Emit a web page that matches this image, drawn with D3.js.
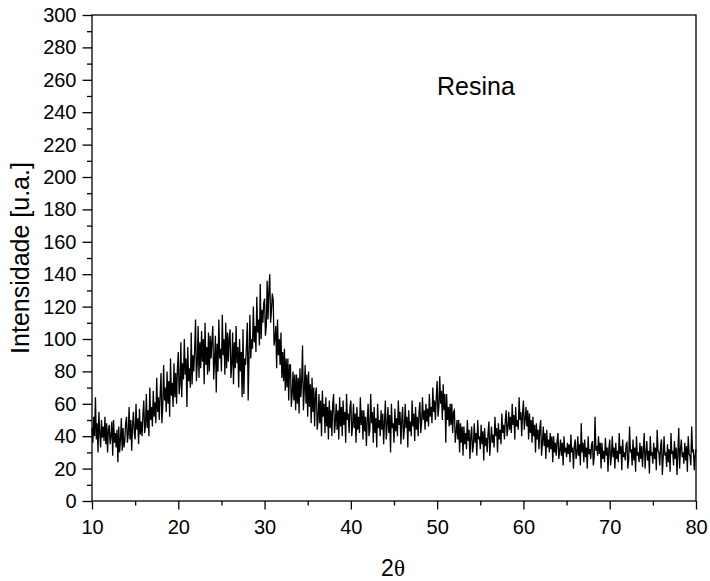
<!DOCTYPE html>
<html>
<head>
<meta charset="utf-8">
<script src="https://cdn.jsdelivr.net/npm/d3@7"></script>
<style>
  body { margin: 0; background: #fff; }
  text { font-family: "Liberation Sans", Arial, sans-serif; fill: #000; }
</style>
</head>
<body>
<div id="chart"></div>
<script>
// sampling grid of the scan (degrees 2theta)
const twoThetaStart = 10;
const twoThetaStep = 0.1;

// intensity, one array per 10 degrees (one row per degree)
const int10 = [45, 36, 52, 40, 64, 38, 48, 30, 55, 42,
  33, 50, 39, 46, 37, 52, 35, 48, 30, 44,
  47, 35, 40, 49, 28, 50, 36, 42, 33, 44,
  24, 46, 30, 38, 51, 31, 45, 33, 37, 48,
  52, 36, 41, 58, 38, 50, 31, 47, 55, 42,
  38, 60, 44, 51, 35, 57, 41, 49, 40, 53,
  62, 42, 47, 66, 45, 56, 40, 70, 50, 58,
  46, 68, 52, 61, 48, 76, 55, 64, 50, 66,
  79, 48, 58, 84, 62, 70, 55, 80, 60, 74,
  52, 88, 65, 73, 58, 85, 64, 79, 60, 82];
const int20 = [92, 66, 72, 98, 64, 85, 75, 100, 78, 88,
  58, 95, 74, 82, 70, 104, 72, 90, 80, 94,
  112, 74, 85, 108, 76, 98, 82, 105, 86, 100,
  72, 110, 84, 95, 78, 104, 80, 102, 88, 99,
  108, 75, 86, 102, 67, 97, 80, 112, 88, 94,
  80, 115, 90, 100, 78, 110, 82, 104, 86, 101,
  106, 76, 84, 104, 72, 98, 82, 108, 85, 95,
  70, 100, 80, 92, 64, 106, 66, 88, 84, 96,
  110, 62, 90, 115, 88, 100, 94, 120, 98, 108,
  92, 126, 104, 112, 96, 134, 100, 118, 110, 122];
const int30 = [125, 102, 108, 136, 112, 130, 140, 110, 118, 128,
  124, 96, 100, 108, 82, 112, 90, 100, 84, 104,
  76, 92, 74, 94, 68, 88, 70, 88, 62, 84,
  84, 58, 66, 80, 62, 78, 56, 78, 60, 76,
  54, 82, 64, 74, 96, 56, 68, 84, 60, 78,
  52, 80, 58, 72, 48, 76, 55, 70, 46, 66,
  70, 44, 50, 66, 48, 62, 40, 68, 52, 60,
  42, 64, 46, 58, 38, 62, 45, 56, 40, 60,
  66, 42, 48, 60, 44, 56, 38, 64, 46, 58,
  40, 62, 47, 55, 36, 66, 50, 54, 42, 58];
const int40 = [62, 40, 46, 60, 45, 54, 36, 58, 44, 52,
  42, 64, 47, 56, 38, 56, 43, 52, 34, 50,
  60, 40, 44, 66, 48, 55, 36, 58, 42, 51,
  33, 60, 45, 50, 40, 56, 44, 54, 35, 49,
  62, 38, 46, 58, 42, 53, 30, 60, 45, 48,
  36, 57, 43, 51, 40, 62, 47, 55, 35, 50,
  58, 38, 44, 60, 45, 52, 33, 56, 43, 49,
  40, 62, 46, 54, 37, 58, 44, 52, 40, 55,
  61, 42, 48, 64, 50, 56, 44, 60, 49, 57,
  46, 66, 52, 58, 48, 70, 55, 62, 50, 64];
const int50 = [74, 52, 58, 77, 60, 68, 50, 72, 56, 66,
  36, 66, 50, 58, 46, 60, 47, 60, 42, 55,
  56, 36, 42, 50, 38, 50, 30, 48, 36, 46,
  28, 46, 35, 42, 32, 50, 37, 44, 26, 40,
  46, 30, 34, 48, 36, 42, 28, 50, 38, 40,
  32, 47, 35, 43, 25, 45, 34, 39, 30, 42,
  49, 28, 37, 46, 36, 41, 33, 52, 40, 45,
  30, 48, 38, 44, 35, 54, 42, 47, 38, 50,
  56, 40, 45, 55, 44, 52, 42, 60, 47, 53,
  38, 58, 46, 50, 44, 64, 50, 55, 40, 54];
const int60 = [62, 44, 50, 58, 46, 56, 38, 54, 42, 50,
  36, 52, 40, 47, 30, 48, 38, 44, 32, 45,
  50, 28, 36, 46, 34, 42, 26, 44, 33, 38,
  30, 42, 32, 40, 24, 40, 30, 36, 28, 37,
  42, 26, 31, 38, 28, 36, 22, 40, 30, 33,
  27, 36, 29, 35, 24, 41, 30, 33, 20, 34,
  38, 26, 29, 40, 28, 35, 22, 48, 30, 36,
  24, 38, 27, 33, 20, 40, 29, 32, 26, 35,
  37, 22, 27, 52, 31, 34, 28, 40, 29, 36,
  20, 36, 26, 31, 24, 39, 28, 33, 18, 32];
const int70 = [38, 22, 28, 40, 27, 33, 20, 36, 26, 31,
  24, 42, 29, 34, 19, 38, 27, 30, 25, 35,
  36, 20, 26, 46, 30, 32, 22, 38, 25, 33,
  18, 40, 28, 30, 24, 36, 26, 34, 21, 32,
  42, 20, 29, 37, 25, 31, 17, 40, 28, 30,
  23, 36, 26, 33, 19, 44, 31, 30, 22, 34,
  38, 16, 27, 40, 28, 30, 21, 35, 24, 32,
  18, 42, 29, 31, 22, 37, 26, 33, 16, 30,
  45, 20, 32, 38, 27, 30, 23, 36, 25, 34,
  18, 40, 29, 28, 22, 46, 30, 32, 19, 28,
  32];

const xTicks = [10, 20, 30, 40, 50, 60, 70, 80];
const yTicks = [0, 20, 40, 60, 80, 100, 120, 140, 160, 180, 200, 220, 240, 260, 280, 300];

const intensity = [].concat(int10, int20, int30, int40, int50, int60, int70);
const data = intensity.map((v, i) => ({ x: twoThetaStart + i * twoThetaStep, y: v }));

const W = 710, H = 581;
const svg = d3.select("#chart").append("svg").attr("width", W).attr("height", H);

const x = d3.scaleLinear().domain([10, 80]).range([92, 696]);
const y = d3.scaleLinear().domain([0, 300]).range([501, 15]);

// data line
svg.append("path")
  .datum(data)
  .attr("fill", "none")
  .attr("stroke", "#000")
  .attr("stroke-width", 1.3)
  .attr("d", d3.line().x(d => x(d.x)).y(d => y(d.y)));

// frame
svg.append("rect")
  .attr("x", x(10)).attr("y", y(300))
  .attr("width", x(80) - x(10)).attr("height", y(0) - y(300))
  .attr("fill", "none").attr("stroke", "#000").attr("stroke-width", 1.3);

// minor ticks
svg.append("g")
  .attr("transform", `translate(0,${y(0)})`)
  .call(d3.axisBottom(x).tickValues(d3.range(15, 80, 10)).tickSize(4.5).tickFormat(""))
  .call(g => g.select(".domain").remove())
  .call(g => g.selectAll("line").attr("stroke-width", 1.3));
svg.append("g")
  .attr("transform", `translate(${x(10)},0)`)
  .call(d3.axisLeft(y).tickValues(d3.range(10, 300, 20)).tickSize(5).tickFormat(""))
  .call(g => g.select(".domain").remove())
  .call(g => g.selectAll("line").attr("stroke-width", 1.3));

// major ticks
svg.append("g")
  .attr("transform", `translate(0,${y(0)})`)
  .call(d3.axisBottom(x).tickValues(xTicks).tickSize(8.5).tickPadding(10))
  .call(g => g.select(".domain").remove())
  .call(g => g.selectAll("line").attr("stroke-width", 1.3))
  .call(g => g.selectAll("text").attr("font-size", 20).attr("font-family", "Liberation Sans"));
svg.append("g")
  .attr("transform", `translate(${x(10)},0)`)
  .call(d3.axisLeft(y).tickValues(yTicks).tickSize(9.5).tickPadding(6))
  .call(g => g.select(".domain").remove())
  .call(g => g.selectAll("line").attr("stroke-width", 1.3))
  .call(g => g.selectAll("text").attr("font-size", 20).attr("font-family", "Liberation Sans"));

// axis titles
const xt = svg.append("text")
  .attr("x", 393).attr("y", 576)
  .attr("text-anchor", "middle")
  .attr("font-size", 23);
xt.append("tspan").text("2");
xt.append("tspan").attr("font-family", "Liberation Serif").text("θ");

svg.append("text")
  .attr("transform", "translate(29,258) rotate(-90)")
  .attr("text-anchor", "middle")
  .attr("font-size", 25)
  .text("Intensidade [u.a.]");

svg.append("text")
  .attr("x", 437).attr("y", 95)
  .attr("font-size", 25)
  .text("Resina");
</script>
</body>
</html>
